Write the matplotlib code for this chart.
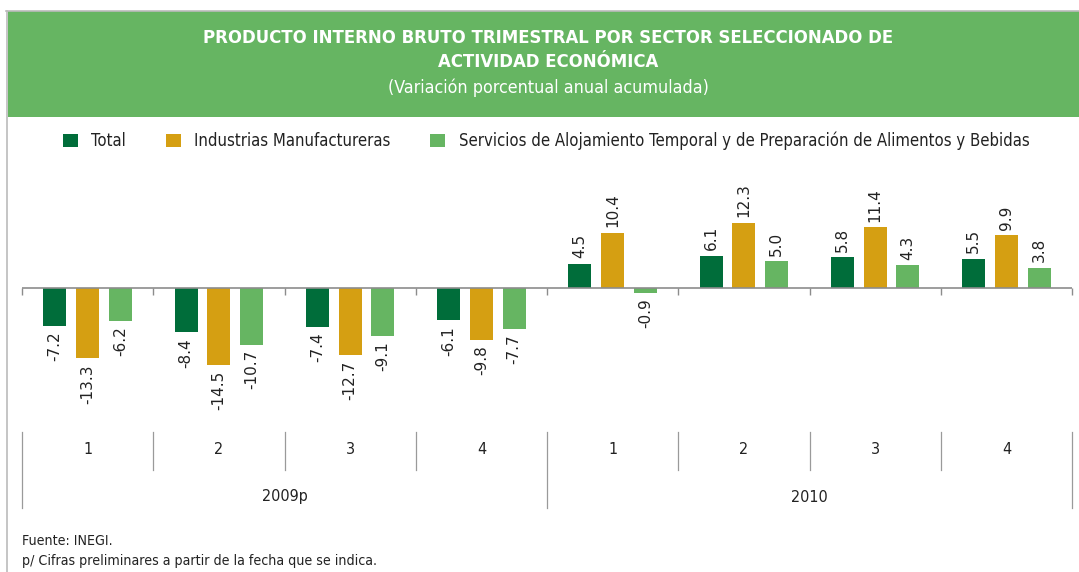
import matplotlib.pyplot as plt
from matplotlib.patches import Rectangle
from matplotlib.lines import Line2D
from matplotlib.transforms import blended_transform_factory

W, H = 1079, 572

years = ['2009p', '2010']
quarters = ['1', '2', '3', '4', '1', '2', '3', '4']
series_names = ['Total', 'Industrias Manufactureras',
                'Servicios de Alojamiento Temporal y de Preparación de Alimentos y Bebidas']
total = [-7.2, -8.4, -7.4, -6.1, 4.5, 6.1, 5.8, 5.5]
manuf = [-13.3, -14.5, -12.7, -9.8, 10.4, 12.3, 11.4, 9.9]
servicios = [-6.2, -10.7, -9.1, -7.7, -0.9, 5.0, 4.3, 3.8]

colors = ['#006D3A', '#D59F12', '#66B562']
band = '#66B562'
narrow = dict(family='DejaVu Sans', stretch='condensed')


def fx(x):
    return x / W


def fy(y):
    return 1 - y / H


fig = plt.figure(figsize=(W / 100, H / 100), dpi=100)

# frame and header band
fig.add_artist(Line2D([fx(6), fx(W)], [fy(11), fy(11)], color='#BBBBBB', lw=1.2))
fig.add_artist(Line2D([fx(7), fx(7)], [fy(11), fy(H)], color='#BBBBBB', lw=1.2))
fig.add_artist(Rectangle((fx(7.5), fy(117)), 1 - fx(7.5), fy(11.5) - fy(117),
                         transform=fig.transFigure, color=band, lw=0))

fig.text(fx(548), fy(38), 'PRODUCTO INTERNO BRUTO TRIMESTRAL POR SECTOR SELECCIONADO DE',
         ha='center', va='center', color='white', fontsize=13.2, fontweight='bold', **narrow)
fig.text(fx(548), fy(62), 'ACTIVIDAD ECONÓMICA',
         ha='center', va='center', color='white', fontsize=13.2, fontweight='bold', **narrow)
fig.text(fx(548), fy(88), '(Variación porcentual anual acumulada)',
         ha='center', va='center', color='white', fontsize=12.8, **narrow)

ax = fig.add_axes([fx(22), fy(420), fx(1072) - fx(22), fy(150) - fy(420)])
ax.set_xlim(0, len(quarters))
ax.set_ylim(-24.9, 26.0)

n = len(quarters)
x = [i + 0.5 for i in range(n)]
width = 0.175
conts = []
for k, (vals, c, name) in enumerate(zip([total, manuf, servicios], colors, series_names)):
    pos = [xi + (k - 1) * 0.25 for xi in x]
    b = ax.bar(pos, vals, width, color=c, label=name, zorder=2)
    ax.bar_label(b, labels=[f'{v:.1f}' for v in vals], rotation=90, padding=4,
                 fontsize=11, color='#222222')
    conts.append(b)

ax.axhline(0, color='#8C8C8C', lw=1.2, zorder=3)
for s in ax.spines.values():
    s.set_visible(False)
ax.set_xticks(range(n + 1))
ax.set_xticklabels([])
ax.set_yticks([])
ax.tick_params(axis='x', length=5, color='#8C8C8C', width=1, pad=0)
ax.spines['bottom'].set_position(('data', 0))

# category axis below the plot
tr = blended_transform_factory(ax.transData, fig.transFigure)
for i in range(n + 1):
    long = i % 4 == 0
    ax.add_line(Line2D([i, i], [fy(432), fy(508 if long else 470)], transform=tr,
                       color='#9A9A9A', lw=0.9, clip_on=False))
for i, q in enumerate(quarters):
    ax.text(i + 0.5, fy(450), q, transform=tr, ha='center', va='center',
            fontsize=11.5, color='#222222', **narrow)
for j, yr in enumerate(years):
    ax.text(j * 4 + 2, fy(497), yr, transform=tr, ha='center', va='center',
            fontsize=11.5, color='#222222', **narrow)

fig.legend(handles=conts, labels=series_names, loc='center', ncol=3,
           bbox_to_anchor=(fx(546), fy(141)), frameon=False,
           handlelength=0.9, handleheight=0.9, handletextpad=0.8, columnspacing=2.4,
           prop=dict(size=12, **narrow), labelcolor='#222222')

fig.text(fx(22), fy(541), 'Fuente: INEGI.', ha='left', va='center',
         fontsize=10.2, color='#222222', **narrow)
fig.text(fx(22), fy(561), 'p/ Cifras preliminares a partir de la fecha que se indica.',
         ha='left', va='center', fontsize=10.2, color='#222222', **narrow)

fig.savefig('out.png', dpi=100)
